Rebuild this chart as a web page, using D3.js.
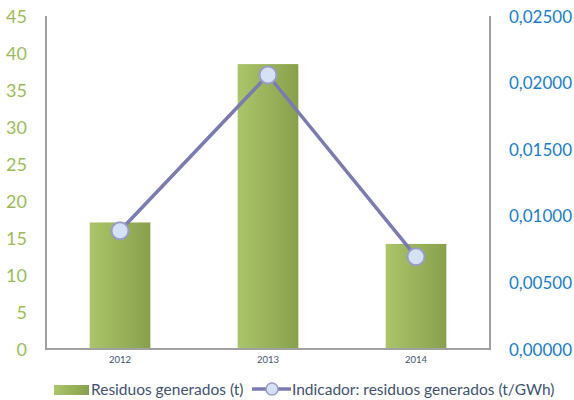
<!DOCTYPE html>
<html>
<head>
<meta charset="utf-8">
<script src="https://cdn.jsdelivr.net/npm/d3@7"></script>
<style>
  html, body { margin: 0; padding: 0; background: #fff; }
  svg { display: block; font-family: Lato, "Open Sans", "Noto Sans", sans-serif; }
</style>
</head>
<body>
<svg id="chart" width="574" height="400"></svg>
<script>
// Waste generated per year (tonnes) and the per-GWh indicator
const years = ["2012", "2013", "2014"];
const residuos = [17.1, 38.5, 14.2];
const indicador = [0.00888, 0.02057, 0.00693];
const leftTicks = [0, 5, 10, 15, 20, 25, 30, 35, 40, 45];
const rightTicks = [0, 0.005, 0.01, 0.015, 0.02, 0.025];
const legendLabels = ["Residuos generados (t)", "Indicador: residuos generados (t/GWh)"];

const svg = d3.select("#chart");
const m = { left: 46, right: 490, top: 16, bottom: 349 };

const x = d3.scaleBand().domain(years).range([m.left, m.right]).paddingInner(0.59).paddingOuter(0.295);
const yL = d3.scaleLinear().domain([0, 45]).range([m.bottom, m.top]);
const yR = d3.scaleLinear().domain([0, 0.025]).range([m.bottom, m.top]);
const xc = d => x(d) + x.bandwidth() / 2;

const defs = svg.append("defs");
const grad = defs.append("linearGradient").attr("id", "barGrad").attr("x1", "0").attr("x2", "1").attr("y1", "0").attr("y2", "0");
grad.append("stop").attr("offset", "0%").attr("stop-color", "#abc56a");
grad.append("stop").attr("offset", "100%").attr("stop-color", "#88a04c");

// Bars
svg.append("g").selectAll("rect").data(years).join("rect")
  .attr("x", d => x(d))
  .attr("y", (d, i) => yL(residuos[i]))
  .attr("width", x.bandwidth())
  .attr("height", (d, i) => yL(0) - yL(residuos[i]))
  .attr("fill", "url(#barGrad)");

// Axis frame lines
const axisColor = "#a0a0a0";
svg.append("line").attr("x1", m.left).attr("x2", m.left).attr("y1", m.top).attr("y2", m.bottom)
  .attr("stroke", axisColor).attr("stroke-width", 2);
svg.append("line").attr("x1", m.right).attr("x2", m.right).attr("y1", m.top).attr("y2", m.bottom)
  .attr("stroke", axisColor).attr("stroke-width", 2);
svg.append("line").attr("x1", m.left - 1).attr("x2", m.right + 1).attr("y1", m.bottom).attr("y2", m.bottom)
  .attr("stroke", axisColor).attr("stroke-width", 2);

// Left axis labels
const left = d3.axisLeft(yL).tickValues(leftTicks).tickSize(0).tickPadding(19);
const gL = svg.append("g").attr("transform", `translate(${m.left},0)`).call(left);
gL.select(".domain").remove();
gL.selectAll("text").attr("fill", "#9bbb59").attr("font-size", 18).attr("font-family", "Lato, sans-serif").attr("dy", "0.34em");

// Right axis labels
const fmt = v => d3.format(".5f")(v).replace(".", ",");
const right = d3.axisRight(yR).tickValues(rightTicks).tickFormat(fmt).tickSize(0).tickPadding(19);
const gR = svg.append("g").attr("transform", `translate(${m.right},0)`).call(right);
gR.select(".domain").remove();
gR.selectAll("text").attr("fill", "#1a7dc8").attr("font-size", 17).attr("font-family", "Lato, sans-serif").attr("dy", "0.36em");

// Category labels
const bottom = d3.axisBottom(x).tickSize(0).tickPadding(7);
const gB = svg.append("g").attr("transform", `translate(0,${m.bottom})`).call(bottom);
gB.select(".domain").remove();
gB.selectAll("text").attr("fill", "#3f5270").attr("font-size", 9.5).attr("font-family", "Lato, sans-serif");

// Indicator line
const lineColor = "#7b7bb0";
const line = d3.line().x((d, i) => xc(years[i])).y(d => yR(d));
svg.append("path").datum(indicador).attr("d", line)
  .attr("fill", "none").attr("stroke", lineColor).attr("stroke-width", 3.5).attr("stroke-linejoin", "round");
svg.append("g").selectAll("circle").data(indicador).join("circle")
  .attr("cx", (d, i) => xc(years[i]))
  .attr("cy", d => yR(d))
  .attr("r", 8.5)
  .attr("fill", "#d5e2f5")
  .attr("stroke", "#9a9cc8")
  .attr("stroke-width", 2);

// Legend
const lg = svg.append("g").attr("font-family", "Lato, sans-serif");
lg.append("rect").attr("x", 54).attr("y", 385).attr("width", 35).attr("height", 10).attr("fill", "url(#barGrad)");
lg.append("text").attr("x", 91).attr("y", 390).attr("dy", "0.35em")
  .attr("fill", "#3f5270").attr("font-size", 15.5).text(legendLabels[0]);
lg.append("line").attr("x1", 252).attr("x2", 291).attr("y1", 389).attr("y2", 389)
  .attr("stroke", lineColor).attr("stroke-width", 3.5);
lg.append("circle").attr("cx", 272).attr("cy", 389).attr("r", 6)
  .attr("fill", "#d5e2f5").attr("stroke", "#9a9cc8").attr("stroke-width", 1.5);
lg.append("text").attr("x", 292).attr("y", 390).attr("dy", "0.35em")
  .attr("fill", "#3f5270").attr("font-size", 15.5).text(legendLabels[1]);
</script>
</body>
</html>
